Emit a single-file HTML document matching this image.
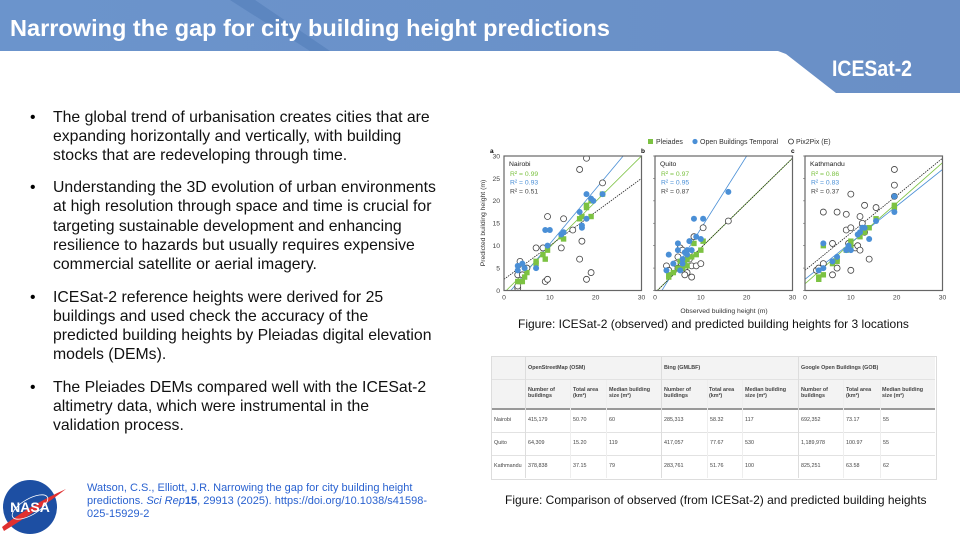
<!DOCTYPE html>
<html><head><meta charset="utf-8">
<style>
body{margin:0;width:960px;height:540px;position:relative;overflow:hidden;background:#fff;font-family:"Liberation Sans",Arial,sans-serif;}
.l{position:absolute;left:53px;font-size:15.8px;color:#111;white-space:nowrap;line-height:19px}
.b{position:absolute;left:30px;font-size:15.8px;line-height:19px}
.t{position:absolute;font-size:5.4px;color:#444;line-height:6px}
</style></head><body>
<svg width="960" height="100" style="position:absolute;left:0;top:0">
<defs><linearGradient id="g" x1="0" x2="1"><stop offset="0" stop-color="#6b94cc"/><stop offset="1" stop-color="#6a8fc6"/></linearGradient></defs>
<polygon points="0,0 960,0 960,93 836,93 786,54 778,51 0,51" fill="url(#g)"/>
<polygon points="230,0 255,0 330,51 310,51" fill="#4d79b5" opacity="0.5"/>
<text x="10" y="36" font-family="Liberation Sans,sans-serif" font-weight="bold" font-size="23" fill="#fff" textLength="600" lengthAdjust="spacingAndGlyphs">Narrowing the gap for city building height predictions</text>
<text x="832" y="76" font-family="Liberation Sans,sans-serif" font-weight="bold" font-size="22" fill="#fff" textLength="80" lengthAdjust="spacingAndGlyphs">ICESat-2</text>
</svg>
<div class="b" style="top:108px">•</div><div class="b" style="top:178px">•</div><div class="b" style="top:288px">•</div><div class="b" style="top:378px">•</div>
<div class="l" style="top:108px">The global trend of urbanisation creates cities that are</div>
<div class="l" style="top:127px">expanding horizontally and vertically, with building</div>
<div class="l" style="top:146px">stocks that are redeveloping through time.</div>
<div class="l" style="top:178px">Understanding the 3D evolution of urban environments</div>
<div class="l" style="top:197px">at high resolution through space and time is crucial for</div>
<div class="l" style="top:217px">targeting sustainable development and enhancing</div>
<div class="l" style="top:236px">resilience to hazards but usually requires expensive</div>
<div class="l" style="top:255px">commercial satellite or aerial imagery.</div>
<div class="l" style="top:288px">ICESat-2 reference heights were derived for 25</div>
<div class="l" style="top:307px">buildings and used check the accuracy of the</div>
<div class="l" style="top:326px">predicted building heights by Pleiadas digital elevation</div>
<div class="l" style="top:345px">models (DEMs).</div>
<div class="l" style="top:378px">The Pleiades DEMs compared well with the ICESat-2</div>
<div class="l" style="top:397px">altimetry data, which were instrumental in the</div>
<div class="l" style="top:416px">validation process.</div>

<svg width="70" height="70" style="position:absolute;left:0;top:475px">
<circle cx="30" cy="32" r="27" fill="#1d4fa3"/>
<path d="M2,52 Q30,30 66,14 Q40,34 4,56Z" fill="#e03030"/>
<ellipse cx="30" cy="32" rx="20" ry="8" fill="none" stroke="#fff" stroke-width="0.8" transform="rotate(-30 30 32)"/>
<text x="30" y="37" text-anchor="middle" font-family="Liberation Sans,sans-serif" font-weight="bold" font-size="14" fill="#fff">NASA</text>
</svg>
<div style="position:absolute;left:87px;top:482px;font-size:11px;line-height:13px;color:#2a62d0;width:330px;white-space:nowrap">Watson, C.S., Elliott, J.R. Narrowing the gap for city building height<br>predictions. <i>Sci Rep</i><b>15</b>, 29913 (2025). https://doi.org/10.1038/s41598-<br>025-15929-2</div>

<svg id="ch" width="480" height="190" style="position:absolute;left:470px;top:130px" font-family="Liberation Sans,sans-serif"></svg>
<div style="position:absolute;left:518px;top:317px;font-size:12px;color:#111">Figure: ICESat-2 (observed) and predicted building heights for 3 locations</div>

<div style="position:absolute;left:491px;top:356px;width:444px;height:122px;border:1px solid #ddd"></div>
<div style="position:absolute;left:492px;top:357px;width:443px;height:51px;background:#f3f3f3;border-bottom:2px solid #999"></div>
<div style="position:absolute;left:492px;top:379px;width:443px;height:1px;background:#e2e2e2"></div>
<div style="position:absolute;left:492px;top:432px;width:443px;height:1px;background:#e2e2e2"></div>
<div style="position:absolute;left:492px;top:455px;width:443px;height:1px;background:#e2e2e2"></div>
<div style="position:absolute;left:525px;top:357px;width:1px;height:121px;background:#ddd"></div>
<div style="position:absolute;left:661px;top:357px;width:1px;height:121px;background:#ddd"></div>
<div style="position:absolute;left:798px;top:357px;width:1px;height:121px;background:#ddd"></div>
<div style="position:absolute;left:570px;top:380px;width:1px;height:98px;background:#eee"></div>
<div style="position:absolute;left:606px;top:380px;width:1px;height:98px;background:#eee"></div>
<div style="position:absolute;left:707px;top:380px;width:1px;height:98px;background:#eee"></div>
<div style="position:absolute;left:742px;top:380px;width:1px;height:98px;background:#eee"></div>
<div style="position:absolute;left:843px;top:380px;width:1px;height:98px;background:#eee"></div>
<div style="position:absolute;left:880px;top:380px;width:1px;height:98px;background:#eee"></div>
<div id="tb"></div>
<div style="position:absolute;left:505px;top:493px;font-size:12px;color:#111">Figure: Comparison of observed (from ICESat-2) and predicted building heights</div>

<script>
(function(){
var s=document.getElementById('ch'),h='';
var ox=[34,185,335],pw=137.5,T0=26,ph=134.5;
var G='#7cc242',B='#4a8fd6';
h+='<rect x="178" y="9" width="5" height="5" fill="'+G+'"/><text x="186" y="14" font-size="7" fill="#333">Pleiades</text>';
h+='<circle cx="225" cy="11.5" r="2.6" fill="'+B+'"/><text x="230" y="14" font-size="7" fill="#333">Open Buildings Temporal</text>';
h+='<circle cx="321" cy="11.5" r="2.5" fill="#fff" stroke="#333" stroke-width="0.8"/><text x="326" y="14" font-size="7" fill="#333">Pix2Pix (E)</text>';
var names=['Nairobi','Quito','Kathmandu'],labs=['a','b','c'];
var r2=[['0.99','0.93','0.51'],['0.97','0.95','0.87'],['0.86','0.83','0.37']];
var D=[
{g:[[3,2],[4,2],[5,4],[7,6],[8.5,8],[9,7],[9.5,9],[12.5,12],[13,11.5],[16.5,16],[17,16.5],[18,19],[18,18.5],[19,16.5],[19,20],[21.5,21.5],[3.5,2],[4.5,3],[7,6.5]],
 b:[[3,5.5],[3,4.5],[4,6],[4.5,5],[7,5],[9,13.5],[10,13.5],[9.5,10],[12.5,12.5],[13,13],[16.5,17.5],[17,14],[17,14.5],[18,21.5],[18,16],[19,20.5],[19.5,20],[21.5,21.5]],
 o:[[3,0.5],[3,1],[3,3.5],[3.5,6.5],[4,3.5],[5,5],[7,9.5],[8.5,9.5],[9,2],[9.5,2.5],[9.5,16.5],[12.5,9.5],[13,16],[15,13.5],[16.5,27],[17,11],[16.5,7],[18,29.5],[18,2.5],[19,4],[21.5,24]],
 L:[[0.5,0,30,30,G],[1.5,0,26,30,B],[0,2.5,30,25,'#222']]},
{g:[[3,3],[3,3.5],[4,4],[5,5],[6,5],[6.5,6],[7,5.5],[7,7],[8,7.5],[8.5,10.5],[10,9],[10.5,11],[9,8],[5.5,6.5]],
 b:[[3,8],[2.5,4.5],[4,6],[5,10.5],[5,9],[6,7],[6.5,8.5],[7,9],[7.5,11],[8.5,16],[8,9],[9,12],[10,11.5],[10.5,16],[16,22],[5.5,4.5],[6,6],[7,8]],
 o:[[2.5,5.5],[3,4.5],[4.5,6],[5,7.5],[5.5,9.5],[6,9],[6.5,5],[7,4],[7.5,8.5],[7.5,7],[8,5.5],[8,3],[8.5,12],[9,5.5],[10,6],[10.5,14],[16,15.5],[6.5,3.5],[5,5]],
 L:[[0.5,0,30,29.5,G],[1.5,0,20,30,B],[0.5,0,30,29.5,'#222']]},
{g:[[3,2.5],[3,3],[4,3.5],[4,10],[6,6],[7,6.5],[7,7],[9,9],[10,10],[12,12],[13,13],[14,14],[15.5,16],[19.5,18.5],[19.5,19],[10,11]],
 b:[[3,4.5],[4,10.5],[4,5],[6,6.5],[7,7.5],[9,9],[9.5,10],[11.5,12.5],[12,13],[12.5,14],[13,14],[14,11.5],[15.5,15.5],[19.5,17.5],[19.5,21],[10,9]],
 o:[[2.5,4.5],[3,5],[4,6],[4,17.5],[6,3.5],[6,10.5],[7,17.5],[9,13.5],[9,17],[9.5,10.5],[10,14],[10,21.5],[10,4.5],[11,9.5],[11.5,10],[12,9],[12,16.5],[12.5,15],[13,19],[13,13],[14,7],[15.5,18.5],[19.5,27],[19.5,23.5],[19.5,21],[7,5]],
 L:[[0,1.5,30,28.5,G],[0,2.5,30,27,B],[0,4.5,30,29.5,'#222']]}];
for(var p=0;p<3;p++){
 var x0=ox[p];
 var X=function(v){return x0+v/30*pw},Y=function(v){return T0+ph-v/30*ph};
 h+='<clipPath id="cp'+p+'"><rect x="'+x0+'" y="'+T0+'" width="'+pw+'" height="'+ph+'"/></clipPath><g clip-path="url(#cp'+p+')">';
 D[p].L.forEach(function(l){h+='<line x1="'+X(l[0])+'" y1="'+Y(l[1])+'" x2="'+X(l[2])+'" y2="'+Y(l[3])+'" stroke="'+l[4]+'" stroke-width="0.8"'+(l[4]=='#222'?' stroke-dasharray="1.5,1"':'')+'/>';});
 D[p].o.forEach(function(c){h+='<circle cx="'+X(c[0])+'" cy="'+Y(c[1])+'" r="3" fill="#fff" stroke="#444" stroke-width="0.8"/>';});
 D[p].g.forEach(function(c){h+='<rect x="'+(X(c[0])-2.7)+'" y="'+(Y(c[1])-2.7)+'" width="5.4" height="5.4" fill="'+G+'"/>';});
 D[p].b.forEach(function(c){h+='<circle cx="'+X(c[0])+'" cy="'+Y(c[1])+'" r="3" fill="'+B+'"/>';});
 h+='</g>';
 h+='<rect x="'+x0+'" y="'+T0+'" width="'+pw+'" height="'+ph+'" fill="none" stroke="#666" stroke-width="1.2"/>';
 h+='<text x="'+(x0-14)+'" y="'+(T0-3)+'" font-size="6.5" font-weight="bold">'+labs[p]+'</text>';
 h+='<text x="'+(x0+5)+'" y="'+(T0+10)+'" font-size="6.8" fill="#222">'+names[p]+'</text>';
 var cl=[G,B,'#444'];
 for(var k=0;k<3;k++)h+='<text x="'+(x0+6)+'" y="'+(T0+20+k*8.7)+'" font-size="6.8" fill="'+cl[k]+'">R² = '+r2[p][k]+'</text>';
 for(var v=0;v<=30;v+=10)h+='<text x="'+X(v)+'" y="'+(T0+ph+9)+'" font-size="6.8" fill="#444" text-anchor="middle">'+v+'</text>';
 for(var v=0;v<=30;v+=5){
  if(p==0)h+='<text x="'+(x0-4)+'" y="'+(Y(v)+2.4)+'" font-size="6.8" fill="#444" text-anchor="end">'+v+'</text>';
  else h+='<line x1="'+(x0-2)+'" x2="'+x0+'" y1="'+Y(v)+'" y2="'+Y(v)+'" stroke="#666" stroke-width="0.6"/>';
 }
}
h+='<text transform="translate(15,93) rotate(-90)" font-size="6.8" fill="#333" text-anchor="middle">Predicted building height (m)</text>';
h+='<text x="254" y="183" font-size="6.8" fill="#333" text-anchor="middle">Observed building height (m)</text>';
s.innerHTML=h;
var T='',t=function(x,y,txt,b){T+='<div class="t" style="left:'+x+'px;top:'+y+'px;'+(b?'font-weight:bold;':'')+'">'+txt+'</div>';};
t(528,365,'OpenStreetMap (OSM)',1);t(664,365,'Bing (GMLBF)',1);t(801,365,'Google Open Buildings (GOB)',1);
[528,664,801].forEach(function(x){t(x,387,'Number of<br>buildings',1);t(x+45,387,'Total area<br>(km²)',1);t(x+81,387,'Median building<br>size (m²)',1);});
var R=[['Nairobi','415,179','50.70','60','285,313','58.32','117','692,352','73.17','55'],['Quito','64,309','15.20','119','417,057','77.67','530','1,189,978','100.97','55'],['Kathmandu','378,838','37.15','79','283,761','51.76','100','825,251','63.58','62']];
var cx=[494,528,573,609,664,710,745,801,846,883];
R.forEach(function(r,i){r.forEach(function(v,j){t(cx[j],417+i*23,v)});});
document.getElementById('tb').innerHTML=T;
})();
</script>
</body></html>
